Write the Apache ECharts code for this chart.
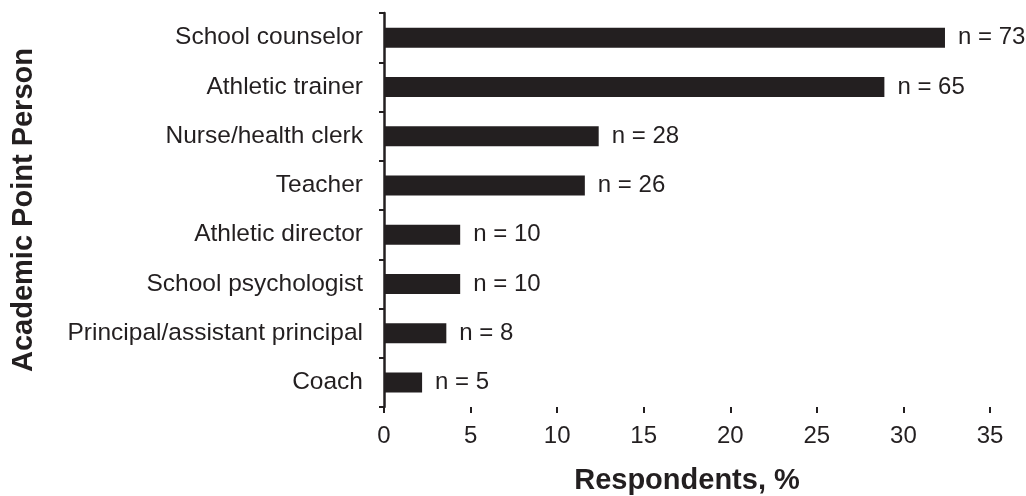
<!DOCTYPE html>
<html>
<head>
    <meta charset="utf-8">
    <script src="https://cdn.jsdelivr.net/npm/echarts@6/dist/echarts.min.js"></script>
    <style>
        html, body { margin: 0; padding: 0; background: #fff; }
        #main { width: 1026px; height: 496px; }
    </style>
</head>
<body>
    <div id="main"></div>
    <script>
        // bottom to top, as drawn on the category axis
        var roles = ['Coach', 'Principal/assistant principal', 'School psychologist', 'Athletic director',
            'Teacher', 'Nurse/health clerk', 'Athletic trainer', 'School counselor'];
        var percent = [2.2, 3.6, 4.4, 4.4, 11.6, 12.4, 28.9, 32.4];
        var counts = [5, 8, 10, 10, 26, 28, 65, 73];
        var xTicks = [0, 5, 10, 15, 20, 25, 30, 35];

        var ink = '#231f20';
        var font = 'Liberation Sans, Arial, sans-serif';

        var chart = echarts.init(document.getElementById('main'));

        var option = {
            animation: false,
            grid: { left: 384, right: 36, top: 13, bottom: 89, containLabel: false, outerBoundsMode: 'none' },
            xAxis: {
                type: 'value',
                min: xTicks[0],
                max: xTicks[xTicks.length - 1],
                interval: 5,
                name: 'Respondents, %',
                nameLocation: 'middle',
                nameGap: 59,
                nameTextStyle: { color: ink, fontFamily: font, fontSize: 29, fontWeight: 'bold' },
                axisLine: { lineStyle: { color: ink, width: 2.5 } },
                axisTick: { show: true, length: 6, lineStyle: { color: ink, width: 2 } },
                axisLabel: { color: ink, fontFamily: font, fontSize: 24, margin: 17 },
                splitLine: { show: false }
            },
            yAxis: {
                type: 'category',
                data: roles,
                name: 'Academic Point Person',
                nameLocation: 'middle',
                nameGap: 346,
                nameRotate: 90,
                nameTextStyle: { color: ink, fontFamily: font, fontSize: 29, fontWeight: 'bold' },
                axisLine: { lineStyle: { color: ink, width: 2.5 } },
                axisTick: { show: true, length: 5, lineStyle: { color: ink, width: 2 } },
                axisLabel: { color: ink, fontFamily: font, fontSize: 24.5, margin: 21 }
            },
            series: [{
                type: 'bar',
                data: percent,
                barWidth: 20,
                itemStyle: { color: ink },
                label: {
                    show: true,
                    position: 'right',
                    distance: 13,
                    color: ink,
                    fontFamily: font,
                    fontSize: 24,
                    formatter: function (p) { return 'n = ' + counts[p.dataIndex]; }
                }
            }]
        };

        chart.setOption(option);
    </script>
</body>
</html>
